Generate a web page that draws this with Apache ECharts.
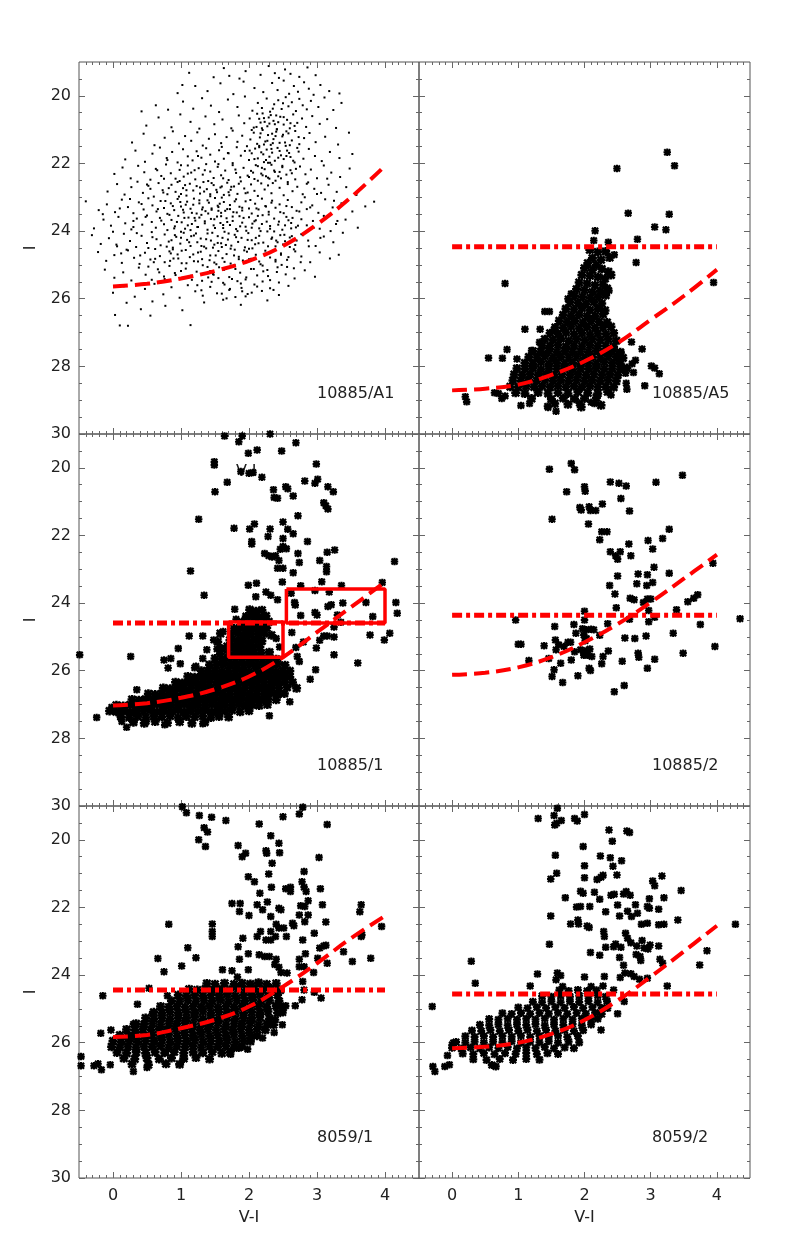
<!DOCTYPE html>
<html>
<head>
<meta charset="utf-8">
<script src="https://cdn.jsdelivr.net/npm/echarts@6/dist/echarts.min.js"></script>
<style>
  html, body { margin: 0; padding: 0; background: #fff; }
  #chart { width: 789px; height: 1240px; }
</style>
</head>
<body>
<div id="chart"></div>
<script>
// ---- data: flat [V-I, I, V-I, I, ...] lists ----

// 10885/A1 : small dots
const a1Dots = [
  1.12,19.32, 1.48,19.45, 1.63,19.18, 1.71,19.41, 1.95,19.27, 2.17,19.38, 2.29,19.12, 2.44,19.47, 2.53,19.22, 2.61,19.35, 2.74,19.44, 2.86,19.16, 2.98,19.39, 2.38,19.33, 1.86,19.49,
  0.95,19.92, 1.21,19.71, 1.39,19.86, 1.58,19.63, 1.77,19.95, 1.92,19.58, 2.08,19.77, 2.21,19.89, 2.34,19.62, 2.42,19.83, 2.51,19.55, 2.59,19.94, 2.66,19.71, 2.72,19.88, 2.81,19.6, 2.88,19.79, 2.95,19.97, 3.05,19.68, 3.18,19.86, 3.33,19.93, 1.02,19.68,
  0.42,20.46, 0.63,20.28, 0.81,20.41, 1.03,20.17, 1.18,20.38, 1.31,20.07, 1.44,20.29, 1.56,20.48, 1.69,20.11, 1.83,20.33, 1.94,20.02, 2.05,20.44, 2.13,20.21, 2.19,20.36, 2.26,20.08, 2.31,20.47, 2.37,20.25, 2.43,20.13, 2.48,20.39, 2.54,20.04, 2.58,20.31, 2.63,20.19, 2.69,20.45, 2.74,20.09, 2.79,20.28, 2.85,20.4, 2.91,20.15, 3.02,20.33, 3.11,20.05, 3.24,20.42, 3.36,20.21, 2.5,20.22, 2.35,20.38,
  0.49,20.88, 0.67,20.64, 0.86,20.93, 0.99,20.55, 1.14,20.77, 1.27,20.97, 1.36,20.61, 1.49,20.84, 1.61,20.7, 1.74,20.96, 1.85,20.58, 1.93,20.81, 2.01,20.67, 2.07,20.94, 2.12,20.53, 2.17,20.79, 2.22,20.66, 2.27,20.9, 2.32,20.57, 2.36,20.74, 2.41,20.99, 2.46,20.62, 2.51,20.85, 2.56,20.71, 2.6,20.96, 2.65,20.55, 2.71,20.8, 2.78,20.67, 2.84,20.92, 2.93,20.6, 3.04,20.83, 3.15,20.69, 3.28,20.95, 2.3,20.82, 2.43,20.78, 2.19,20.96,
  0.28,21.38, 0.45,21.12, 0.61,21.46, 0.76,21.24, 0.88,21.05, 0.97,21.41, 1.06,21.19, 1.15,21.33, 1.24,21.08, 1.32,21.47, 1.41,21.27, 1.5,21.14, 1.59,21.4, 1.67,21.22, 1.76,21.03, 1.83,21.36, 1.9,21.18, 1.97,21.49, 2.02,21.29, 2.07,21.09, 2.12,21.42, 2.16,21.23, 2.2,21.01, 2.24,21.35, 2.28,21.16, 2.32,21.45, 2.36,21.28, 2.4,21.06, 2.45,21.39, 2.49,21.2, 2.54,21.48, 2.58,21.11, 2.63,21.32, 2.68,21.04, 2.74,21.43, 2.81,21.25, 2.89,21.1, 2.98,21.37, 3.12,21.21, 3.31,21.44, 3.47,21.09, 2.22,21.44, 2.34,21.12,
  0.18,21.88, 0.33,21.62, 0.47,21.95, 0.58,21.71, 0.69,21.53, 0.79,21.84, 0.87,21.66, 0.95,21.97, 1.03,21.58, 1.1,21.79, 1.17,21.91, 1.23,21.64, 1.3,21.83, 1.37,21.55, 1.43,21.74, 1.5,21.94, 1.56,21.61, 1.63,21.86, 1.69,21.69, 1.76,21.99, 1.82,21.52, 1.88,21.77, 1.94,21.63, 2.0,21.9, 2.04,21.7, 2.09,21.56, 2.13,21.85, 2.18,21.67, 2.22,21.96, 2.26,21.59, 2.3,21.8, 2.34,21.68, 2.38,21.92, 2.42,21.54, 2.47,21.76, 2.51,21.87, 2.56,21.62, 2.61,21.81, 2.67,21.97, 2.73,21.65, 2.8,21.86, 2.88,21.57, 2.97,21.78, 3.07,21.93, 3.19,21.66, 3.33,21.84, 3.52,21.72, 2.15,21.52, 2.28,21.98, 1.6,21.51,
  0.02,22.31, 0.14,22.12, 0.26,22.44, 0.37,22.07, 0.46,22.26, 0.55,22.48, 0.63,22.16, 0.71,22.37, 0.78,22.03, 0.85,22.29, 0.92,22.45, 0.98,22.19, 1.04,22.39, 1.1,22.06, 1.15,22.27, 1.21,22.47, 1.26,22.14, 1.32,22.33, 1.37,22.02, 1.43,22.24, 1.48,22.43, 1.54,22.1, 1.59,22.35, 1.65,22.21, 1.7,22.49, 1.76,22.05, 1.81,22.28, 1.87,22.41, 1.92,22.13, 1.98,22.36, 2.03,22.22, 2.08,22.46, 2.13,22.08, 2.18,22.3, 2.23,22.17, 2.28,22.42, 2.33,22.04, 2.38,22.25, 2.43,22.38, 2.49,22.11, 2.55,22.33, 2.61,22.2, 2.68,22.47, 2.75,22.09, 2.83,22.32, 2.91,22.18, 3.0,22.44, 3.1,22.06, 3.21,22.27, 3.34,22.4, 3.48,22.15, 1.2,22.2, 1.62,22.44, 2.2,22.35,
  -0.08,22.83, 0.06,22.61, 0.17,22.92, 0.27,22.7, 0.36,22.54, 0.44,22.87, 0.52,22.66, 0.6,22.98, 0.67,22.58, 0.73,22.79, 0.8,22.91, 0.86,22.63, 0.92,22.84, 0.98,22.52, 1.03,22.73, 1.08,22.95, 1.13,22.6, 1.18,22.8, 1.23,22.67, 1.28,22.89, 1.33,22.55, 1.38,22.76, 1.43,22.97, 1.48,22.64, 1.53,22.85, 1.58,22.71, 1.63,22.93, 1.68,22.57, 1.73,22.78, 1.78,22.68, 1.83,22.9, 1.88,22.53, 1.93,22.74, 1.98,22.86, 2.03,22.62, 2.08,22.81, 2.13,22.96, 2.18,22.59, 2.23,22.77, 2.28,22.65, 2.33,22.88, 2.39,22.51, 2.45,22.72, 2.51,22.94, 2.57,22.61, 2.64,22.82, 2.71,22.69, 2.79,22.91, 2.87,22.56, 2.96,22.75, 3.06,22.87, 3.17,22.63, 3.29,22.84, 3.43,22.7, 3.58,22.93, 1.0,22.9, 1.45,22.58, 0.55,22.75, 1.7,22.85,
  -0.4,23.12, -0.21,23.38, -0.09,23.21, 0.03,23.44, 0.13,23.07, 0.22,23.29, 0.3,23.47, 0.38,23.15, 0.45,23.36, 0.52,23.03, 0.58,23.24, 0.64,23.42, 0.7,23.11, 0.75,23.32, 0.8,23.49, 0.85,23.18, 0.9,23.38, 0.95,23.05, 1.0,23.27, 1.04,23.45, 1.09,23.13, 1.14,23.34, 1.18,23.22, 1.23,23.48, 1.27,23.09, 1.32,23.3, 1.36,23.41, 1.41,23.16, 1.45,23.37, 1.5,23.02, 1.54,23.25, 1.59,23.46, 1.63,23.14, 1.68,23.35, 1.72,23.23, 1.77,23.44, 1.81,23.06, 1.86,23.28, 1.9,23.39, 1.95,23.12, 2.0,23.33, 2.04,23.48, 2.09,23.19, 2.14,23.36, 2.19,23.04, 2.24,23.26, 2.29,23.43, 2.34,23.1, 2.39,23.31, 2.45,23.21, 2.51,23.47, 2.57,23.08, 2.63,23.29, 2.7,23.4, 2.77,23.15, 2.85,23.35, 2.93,23.24, 3.02,23.46, 3.12,23.06, 3.23,23.3, 3.36,23.18, 3.52,23.42, 3.71,23.27, 3.84,23.13, 1.07,23.22, 1.55,23.4, 0.42,23.2,
  -0.28,23.92, -0.14,23.66, -0.03,23.84, 0.08,23.58, 0.18,23.77, 0.27,23.95, 0.35,23.63, 0.43,23.81, 0.5,23.54, 0.57,23.73, 0.63,23.9, 0.69,23.61, 0.75,23.8, 0.8,23.97, 0.86,23.67, 0.91,23.86, 0.96,23.55, 1.01,23.74, 1.06,23.93, 1.11,23.6, 1.16,23.79, 1.21,23.69, 1.25,23.88, 1.3,23.52, 1.35,23.71, 1.39,23.96, 1.44,23.64, 1.48,23.83, 1.53,23.57, 1.58,23.76, 1.62,23.91, 1.67,23.62, 1.72,23.82, 1.76,23.7, 1.81,23.94, 1.86,23.56, 1.9,23.75, 1.95,23.87, 2.0,23.59, 2.05,23.78, 2.1,23.68, 2.15,23.92, 2.2,23.53, 2.26,23.72, 2.31,23.85, 2.37,23.63, 2.43,23.81, 2.49,23.96, 2.55,23.58, 2.62,23.76, 2.69,23.89, 2.77,23.65, 2.85,23.83, 2.94,23.7, 3.04,23.93, 3.15,23.57, 3.28,23.79, 3.42,23.66, 3.6,23.9, 0.3,23.7, 1.27,23.6, 2.58,23.68,
  -0.31,24.12, -0.18,24.38, -0.06,24.21, 0.06,24.45, 0.16,24.08, 0.25,24.29, 0.34,24.47, 0.42,24.14, 0.5,24.35, 0.57,24.03, 0.64,24.24, 0.7,24.42, 0.76,24.1, 0.82,24.31, 0.88,24.49, 0.93,24.17, 0.99,24.37, 1.04,24.05, 1.09,24.26, 1.14,24.44, 1.19,24.13, 1.24,24.33, 1.29,24.22, 1.34,24.46, 1.39,24.07, 1.44,24.28, 1.49,24.4, 1.54,24.15, 1.59,24.36, 1.64,24.02, 1.69,24.25, 1.74,24.43, 1.79,24.11, 1.84,24.32, 1.89,24.2, 1.94,24.48, 1.99,24.06, 2.04,24.27, 2.09,24.39, 2.15,24.14, 2.21,24.34, 2.27,24.01, 2.33,24.23, 2.39,24.45, 2.46,24.12, 2.53,24.3, 2.6,24.19, 2.68,24.41, 2.77,24.09, 2.87,24.28, 2.98,24.44, 3.1,24.16, 3.24,24.33, 3.38,24.05, 1.0,24.2, 1.6,24.47, 2.4,24.28,
  -0.22,24.62, -0.1,24.88, 0.02,24.71, 0.13,24.94, 0.22,24.57, 0.31,24.79, 0.39,24.97, 0.47,24.64, 0.55,24.84, 0.62,24.53, 0.69,24.74, 0.76,24.92, 0.83,24.6, 0.89,24.81, 0.95,24.69, 1.01,24.95, 1.07,24.56, 1.13,24.77, 1.19,24.89, 1.25,24.63, 1.31,24.83, 1.37,24.51, 1.43,24.72, 1.49,24.93, 1.55,24.59, 1.61,24.8, 1.67,24.68, 1.73,24.96, 1.79,24.55, 1.85,24.76, 1.91,24.87, 1.97,24.61, 2.03,24.82, 2.1,24.7, 2.17,24.98, 2.24,24.58, 2.31,24.78, 2.39,24.9, 2.47,24.66, 2.56,24.85, 2.66,24.54, 2.77,24.75, 2.9,24.92, 3.04,24.63, 3.19,24.81, 3.32,24.7, 0.88,24.54, 1.52,24.98, 2.0,24.52,
  -0.12,25.14, 0.02,25.38, 0.15,25.22, 0.27,25.46, 0.38,25.08, 0.48,25.29, 0.57,25.44, 0.66,25.13, 0.75,25.34, 0.83,25.03, 0.91,25.24, 0.99,25.41, 1.07,25.11, 1.15,25.32, 1.23,25.2, 1.31,25.47, 1.39,25.06, 1.47,25.27, 1.55,25.39, 1.63,25.15, 1.71,25.36, 1.79,25.01, 1.87,25.23, 1.95,25.43, 2.03,25.12, 2.12,25.31, 2.21,25.19, 2.31,25.45, 2.42,25.07, 2.54,25.28, 2.67,25.4, 2.82,25.16, 2.97,25.35, 1.83,25.48, 1.43,25.18,
  0.0,25.82, 0.16,25.63, 0.32,25.94, 0.47,25.71, 0.61,25.56, 0.74,25.87, 0.86,25.66, 0.98,25.97, 1.1,25.6, 1.21,25.78, 1.32,25.91, 1.43,25.65, 1.53,25.84, 1.62,25.53, 1.71,25.74, 1.8,25.95, 1.89,25.68, 1.98,25.86, 2.08,25.58, 2.19,25.77, 2.31,25.69, 2.44,25.89, 2.58,25.62, 1.67,25.99, 1.95,25.93,
  0.03,26.48, 0.2,26.12, 0.41,26.31, 0.58,26.08, 0.77,26.21, 1.02,26.34, 1.34,26.11, 1.62,26.03, 1.88,26.18, 2.27,26.05, 0.1,26.79, 0.22,26.8, 1.14,26.78, 0.55,26.5
];
// extra dots in the densest parts of the A1 cloud
const a1DenseDots = [
  0.74,22.86, 0.83,23.52, 0.91,24.12, 0.97,22.98, 1.05,23.61, 1.12,24.33, 1.19,23.04, 1.24,23.88, 1.29,24.61, 1.34,22.83, 1.4,23.48, 1.46,24.05, 1.51,24.72, 1.57,23.19, 1.62,23.82, 1.66,24.41, 1.71,22.94, 1.76,23.57, 1.81,24.18, 1.85,24.83, 1.9,23.31, 1.96,23.99, 0.79,24.46, 0.88,23.26, 0.94,23.73, 1.01,24.58, 1.08,22.79, 1.16,23.46, 1.22,24.07, 1.31,23.36, 1.37,24.24, 1.43,22.91, 1.49,23.65, 1.54,24.35, 1.6,23.01, 1.68,23.73, 1.73,24.52, 1.79,23.12, 1.87,23.86, 1.93,24.57, 0.71,23.69, 0.86,24.27, 1.03,23.37, 1.14,23.97, 1.27,23.18, 1.35,23.77, 1.47,24.49, 1.59,23.56, 1.7,24.07, 1.82,23.45, 1.98,24.26, 0.96,24.81, 1.18,24.69, 1.42,24.86, 1.64,24.91, 0.82,22.73, 1.06,22.64, 1.28,22.71, 1.52,22.78, 1.74,22.69, 1.95,22.88,
  0.77,23.11, 0.9,23.92, 1.0,24.02, 1.1,23.83, 1.2,23.61, 1.3,24.44, 1.39,23.09, 1.5,23.91, 1.61,24.2, 1.72,23.35, 1.83,24.0, 1.92,23.61, 0.85,24.66, 1.25,24.9, 1.55,23.29, 1.45,23.33, 1.15,24.15, 1.65,23.4, 1.78,24.72, 0.99,23.14,
  2.02,23.08, 2.08,23.71, 2.14,24.36, 2.2,25.02, 2.25,23.27, 2.31,23.93, 2.36,24.58, 2.41,25.21, 2.46,23.44, 2.52,24.11, 2.58,24.77, 2.64,23.61, 2.7,24.28, 2.76,24.92, 2.05,24.51, 2.11,23.33, 2.17,24.0, 2.23,24.67, 2.29,23.51, 2.34,24.19, 2.39,24.85, 2.44,23.72, 2.5,24.4, 2.56,25.06, 2.62,23.92, 2.68,24.6, 2.74,23.42, 2.0,24.83, 2.07,25.12, 2.13,23.55, 2.27,25.15, 2.33,23.16, 2.48,25.0, 2.55,23.26, 2.6,24.47, 2.72,23.84, 2.79,24.12, 2.04,23.9, 2.19,23.79, 2.37,24.01, 2.53,23.83, 2.66,25.1, 2.15,24.9, 2.42,24.33, 2.1,24.2, 2.28,24.45, 2.47,24.7, 2.63,24.15,
  2.01,21.62, 2.06,22.27, 2.11,20.92, 2.15,21.48, 2.19,22.13, 2.23,20.77, 2.27,21.33, 2.31,21.98, 2.35,22.58, 2.39,21.19, 2.43,21.83, 2.47,22.44, 2.51,20.63, 2.55,21.05, 2.59,21.69, 2.63,22.29, 2.67,20.89, 2.71,21.54, 2.04,21.01, 2.08,21.87, 2.13,22.51, 2.17,21.11, 2.21,21.73, 2.25,22.38, 2.29,20.64, 2.33,21.57, 2.37,22.21, 2.41,20.99, 2.45,21.63, 2.49,22.07, 2.53,21.38, 2.57,22.55, 2.61,20.81, 2.65,21.92, 2.69,22.16, 2.73,21.22, 2.2,20.52, 2.4,20.58, 2.6,21.46, 2.35,21.4, 2.25,21.9, 2.45,22.25, 2.1,22.05, 2.55,21.78, 2.3,22.45, 2.0,22.4, 2.15,20.68, 2.5,21.15, 2.38,20.84,
  0.52,25.05, 0.68,25.22, 0.84,24.88, 1.0,25.18, 1.16,25.44, 1.32,25.01, 1.48,25.29, 1.64,25.58, 1.8,25.12, 1.96,25.37, 2.12,25.64, 2.28,25.33, 2.44,25.52, 0.6,24.92, 0.76,25.42, 0.92,25.3, 1.08,24.95, 1.24,25.6, 1.4,25.37, 1.56,25.07, 1.72,25.71, 1.88,25.55, 2.04,25.82, 2.2,25.49, 2.36,25.74, 1.6,25.85, 1.9,25.78, 1.3,25.75, 1.45,25.5, 1.75,25.42,
  -0.15,23.5, 0.0,24.02, 0.1,23.33, 0.2,24.55, 0.3,23.88, 0.4,24.72, 0.48,23.58, 0.58,24.18, 0.66,23.35, 0.62,24.82, 0.12,24.66, 0.35,24.06, 0.52,24.5, 0.25,23.05, 0.05,24.4,
  0.5,22.62, 0.65,22.2, 0.8,21.9, 0.95,22.55, 1.1,22.3, 1.25,21.78, 1.4,22.52, 1.55,22.02, 1.7,21.7, 1.85,22.6, 0.75,22.45, 1.0,22.05, 1.35,22.2, 1.6,22.68, 1.8,22.18,
  2.85,22.6, 2.9,23.3, 2.95,23.9, 3.0,22.9, 3.05,24.2, 3.1,23.55, 3.15,22.45, 3.2,24.0, 2.88,24.45, 3.25,23.1, 3.3,23.7, 2.82,23.0
];

// 10885/A5 : scattered asterisks and the dense sequence
const a5Scatter = [
  3.25,21.67, 3.36,22.07, 2.49,22.15, 2.66,23.47, 3.28,23.5, 3.06,23.88, 3.23,23.96, 2.16,23.99, 2.14,24.28, 2.8,24.24, 2.36,24.33, 2.45,24.7, 2.78,24.93, 2.37,25.76, 0.8,25.55, 3.95,25.52,
  1.4,26.38, 1.47,26.38, 1.1,26.9, 1.33,26.9, 1.54,26.92, 1.32,27.29, 1.2,27.53, 0.83,27.5, 0.55,27.75, 0.76,27.76, 0.98,27.78, 1.75,26.0, 1.8,25.85,
  2.71,27.28, 2.87,27.49, 2.77,27.82, 2.72,27.92, 2.55,27.6, 2.52,27.8, 2.74,28.18, 2.62,28.2, 2.63,28.5, 2.64,28.68, 2.4,28.85, 3.01,27.99, 3.06,28.05, 3.13,28.22, 2.91,28.57,
  1.04,29.16, 1.17,29.1, 1.44,29.18, 1.45,29.22, 1.57,29.33, 1.92,29.08, 2.1,29.06, 2.15,29.1,
  0.2,28.9, 0.22,29.05, 0.7,28.8, 0.75,28.95, 0.8,28.88, 0.64,28.78
];
const a5Core = [
  2.08,24.55, 2.2,24.62, 2.32,24.6, 2.12,24.8, 2.25,24.85, 2.38,24.78, 2.05,24.95, 2.18,25.0,
  2.0,25.1, 2.12,25.15, 2.26,25.12, 2.36,25.2, 1.96,25.3, 2.08,25.32, 2.2,25.36, 2.31,25.4, 2.4,25.3,
  1.92,25.52, 2.04,25.55, 2.16,25.6, 2.28,25.58, 1.88,25.72, 2.0,25.75, 2.12,25.8, 2.24,25.78, 2.34,25.7, 1.85,25.92, 1.97,25.95, 2.09,25.98, 2.21,25.94, 2.32,25.9,
  1.78,26.1, 1.9,26.12, 2.02,26.15, 2.14,26.1, 2.26,26.14, 1.72,26.3, 1.84,26.32, 1.96,26.28, 2.08,26.33, 2.2,26.3, 2.31,26.35, 1.68,26.48, 1.8,26.5, 1.92,26.47, 2.04,26.52, 2.16,26.5, 2.28,26.46,
  1.62,26.65, 1.74,26.68, 1.86,26.66, 1.98,26.7, 2.1,26.65, 2.22,26.68, 2.34,26.7, 1.56,26.85, 1.68,26.86, 1.8,26.82, 1.92,26.88, 2.04,26.84, 2.16,26.87, 2.28,26.85, 2.4,26.83,
  1.48,27.02, 1.6,27.04, 1.72,27.0, 1.84,27.05, 1.96,27.02, 2.08,27.06, 2.2,27.03, 2.32,27.05, 2.44,27.02, 1.4,27.2, 1.52,27.22, 1.64,27.18, 1.76,27.24, 1.88,27.2, 2.0,27.23, 2.12,27.19, 2.24,27.22, 2.36,27.2, 2.48,27.24, 1.36,27.38, 1.48,27.4, 1.6,27.36, 1.72,27.42, 1.84,27.38, 1.96,27.41, 2.08,27.37, 2.2,27.4, 2.32,27.39, 2.44,27.42,
  1.22,27.55, 1.34,27.57, 1.46,27.54, 1.58,27.58, 1.7,27.55, 1.82,27.57, 1.94,27.56, 2.06,27.58, 2.18,27.54, 2.3,27.57, 2.42,27.55, 2.54,27.58, 1.16,27.72, 1.28,27.74, 1.4,27.7, 1.52,27.75, 1.64,27.72, 1.76,27.74, 1.88,27.71, 2.0,27.75, 2.12,27.72, 2.24,27.74, 2.36,27.7, 2.48,27.73, 2.58,27.75, 1.1,27.9, 1.22,27.92, 1.34,27.88, 1.46,27.92, 1.58,27.9, 1.7,27.93, 1.82,27.89, 1.94,27.92, 2.06,27.9, 2.18,27.93, 2.3,27.88, 2.42,27.91, 2.54,27.92,
  0.98,28.06, 1.1,28.08, 1.22,28.05, 1.34,28.09, 1.46,28.06, 1.58,28.08, 1.7,28.05, 1.82,28.09, 1.94,28.06, 2.06,28.08, 2.18,28.05, 2.3,28.08, 2.42,28.06, 2.54,28.09, 2.64,28.05, 0.94,28.24, 1.06,28.26, 1.18,28.22, 1.3,28.25, 1.42,28.23, 1.54,28.26, 1.66,28.22, 1.78,28.25, 1.9,28.23, 2.02,28.26, 2.14,28.22, 2.26,28.25, 2.38,28.23, 2.5,28.26, 0.92,28.42, 1.04,28.44, 1.16,28.4, 1.28,28.43, 1.4,28.41, 1.52,28.44, 1.64,28.4, 1.76,28.43, 1.88,28.41, 2.0,28.44, 2.12,28.4, 2.24,28.43, 2.36,28.41, 2.48,28.44,
  0.88,28.6, 1.0,28.62, 1.12,28.58, 1.24,28.61, 1.36,28.59, 1.48,28.62, 1.6,28.58, 1.72,28.61, 1.84,28.59, 1.96,28.62, 2.08,28.58, 2.2,28.61, 2.32,28.6, 2.44,28.62, 0.96,28.78, 1.1,28.8, 1.3,28.77, 1.45,28.8, 1.6,28.78, 1.75,28.8, 1.9,28.76, 2.05,28.79, 2.2,28.8, 2.35,28.75, 1.2,28.95, 1.5,28.97, 1.68,28.94, 1.85,28.96, 2.0,28.95, 2.18,28.93,
  1.55,29.1, 1.75,29.12, 1.95,29.2, 2.25,29.15
];

// 10885/1 : scattered stars and the dense sequence
const n1Scatter = [
  1.64,19.06, 1.9,19.06, 1.85,19.23, 1.99,19.57, 2.12,19.47, 2.48,19.5, 2.69,19.26, 2.31,19.0, 1.49,19.82, 1.49,19.92, 1.88,20.11, 2.0,20.16, 2.06,20.14, 2.19,20.28, 1.68,20.43, 1.5,20.71, 2.36,20.65, 2.37,20.88, 2.42,20.9, 2.54,20.56, 2.57,20.62, 2.65,20.83, 2.82,20.39, 2.97,20.46, 3.01,20.34, 2.99,19.89, 3.16,20.56, 3.24,20.71, 3.1,21.03, 3.13,21.12, 3.16,21.22, 2.72,21.42, 1.26,21.52, 2.5,21.6, 2.08,21.66, 2.01,21.81, 1.78,21.79, 2.31,21.81, 2.57,21.82, 2.65,21.95, 2.28,22.03, 2.5,22.09, 2.04,22.18, 2.04,22.25, 2.86,22.18, 2.46,22.41, 2.5,22.33, 2.55,22.39, 3.26,22.43, 3.15,22.5, 2.23,22.53, 2.29,22.6, 2.34,22.64, 2.39,22.6, 2.44,22.74, 2.72,22.53, 2.74,22.8, 3.04,22.74, 3.14,22.92, 3.14,23.07, 2.42,22.97, 2.5,22.97, 2.65,23.1, 1.14,23.05, 4.14,22.77, 3.07,23.37, 2.49,23.38, 1.99,23.47, 2.11,23.41, 1.34,23.77, 2.1,23.81, 2.25,23.67, 2.32,23.77, 2.42,23.9, 2.76,23.49, 3.18,23.67, 3.36,23.48, 3.96,23.39, 2.62,23.71, 2.67,23.98, 2.68,24.06, 2.97,23.63, 2.97,24.28, 3.0,24.35, 3.16,24.1, 3.21,24.05, 3.38,24.0, 2.76,24.37, 3.3,24.35, 3.72,23.98, 3.82,24.4, 4.16,23.98, 4.18,24.3, 3.35,24.57, 3.25,24.71, 3.1,24.97, 3.15,24.97, 3.25,25.0, 3.78,24.94, 4.07,24.89, 3.99,25.09, 3.25,25.53, 2.99,25.33, 3.04,25.1, 2.98,25.97, 2.9,26.25, 3.6,25.77, 2.71,25.58, 2.74,25.73, 2.69,25.31, 2.8,25.15, 2.63,24.87, 2.4,25.05, 2.45,25.3,
  1.12,24.97, 1.32,24.97, 1.79,24.18, 1.81,24.48, 0.96,25.34, 0.75,25.68, 0.81,25.92, 0.85,25.64, 0.99,25.79, 0.26,25.58, -0.49,25.53, 0.35,26.56, -0.24,27.38, -0.02,27.08, 0.11,27.35, 0.2,27.67, 0.13,27.5, 0.26,27.25, 0.49,27.5, 0.76,27.6, 1.32,27.57, 2.3,27.33, 2.6,26.92, 1.2,25.91, 1.22,25.87, 1.32,25.64, 1.38,25.38, 1.53,25.36, 1.48,25.09, 1.62,24.84
];
const n1Core = [
  2.01,24.2, 2.1,24.24, 2.19,24.21,
  1.96,24.4, 2.06,24.37, 2.15,24.41, 2.25,24.38,
  1.9,24.56, 2.0,24.58, 2.09,24.55, 2.19,24.57, 2.29,24.55,
  1.78,24.75, 1.87,24.73, 1.97,24.76, 2.07,24.74, 2.16,24.77, 2.26,24.73,
  1.74,24.93, 1.84,24.9, 1.94,24.94, 2.03,24.91, 2.13,24.93, 2.22,24.9, 2.33,24.95, 1.58,24.9,
  1.72,25.1, 1.82,25.12, 1.91,25.09, 2.0,25.13, 2.1,25.1, 2.19,25.12, 1.54,25.14,
  1.68,25.28, 1.78,25.3, 1.88,25.27, 1.97,25.31, 2.06,25.28, 2.16,25.3, 1.6,25.35,
  1.7,25.46, 1.8,25.48, 1.89,25.45, 1.99,25.49, 2.08,25.46, 2.18,25.48, 2.3,25.45, 1.58,25.5,
  1.5,25.64, 1.6,25.66, 1.7,25.63, 1.8,25.67, 1.9,25.64, 2.0,25.66, 2.1,25.63, 2.2,25.67, 2.3,25.64, 2.4,25.66,
  1.42,25.82, 1.52,25.84, 1.62,25.81, 1.72,25.84, 1.82,25.81, 1.92,25.83, 2.02,25.8, 2.12,25.84, 2.22,25.81, 2.32,25.83, 2.42,25.8, 2.53,25.84,
  1.3,26.0, 1.4,26.02, 1.5,25.99, 1.6,26.02, 1.7,25.99, 1.8,26.01, 1.9,25.98, 2.0,26.02, 2.1,25.99, 2.2,26.01, 2.3,25.98, 2.4,26.02, 2.5,25.99, 2.6,26.01,
  1.1,26.17, 1.2,26.19, 1.3,26.16, 1.4,26.19, 1.5,26.16, 1.6,26.18, 1.7,26.15, 1.8,26.19, 1.9,26.16, 2.0,26.18, 2.1,26.15, 2.2,26.19, 2.3,26.16, 2.4,26.18, 2.5,26.15, 2.6,26.19,
  0.92,26.34, 1.02,26.36, 1.12,26.33, 1.22,26.36, 1.32,26.33, 1.42,26.35, 1.52,26.32, 1.62,26.36, 1.72,26.33, 1.82,26.35, 1.92,26.32, 2.02,26.36, 2.12,26.33, 2.22,26.35, 2.32,26.32, 2.42,26.36, 2.52,26.33, 2.64,26.35,
  0.74,26.51, 0.84,26.53, 0.94,26.5, 1.04,26.53, 1.14,26.5, 1.24,26.52, 1.34,26.49, 1.44,26.53, 1.54,26.5, 1.64,26.52, 1.74,26.49, 1.84,26.53, 1.94,26.5, 2.04,26.52, 2.14,26.49, 2.24,26.53, 2.34,26.5, 2.44,26.52, 2.56,26.49, 2.7,26.52,
  0.52,26.68, 0.62,26.7, 0.72,26.67, 0.82,26.7, 0.92,26.67, 1.02,26.69, 1.12,26.66, 1.22,26.7, 1.32,26.67, 1.42,26.69, 1.52,26.66, 1.62,26.7, 1.72,26.67, 1.82,26.69, 1.92,26.66, 2.02,26.7, 2.12,26.67, 2.22,26.69, 2.32,26.66, 2.42,26.7, 2.52,26.67,
  0.28,26.85, 0.38,26.87, 0.48,26.84, 0.58,26.87, 0.68,26.84, 0.78,26.86, 0.88,26.83, 0.98,26.87, 1.08,26.84, 1.18,26.86, 1.28,26.83, 1.38,26.87, 1.48,26.84, 1.58,26.86, 1.68,26.83, 1.78,26.87, 1.88,26.84, 1.98,26.86, 2.08,26.83, 2.18,26.87, 2.28,26.84, 2.4,26.86,
  0.05,27.02, 0.15,27.04, 0.25,27.01, 0.35,27.04, 0.45,27.01, 0.55,27.03, 0.65,27.0, 0.75,27.04, 0.85,27.01, 0.95,27.03, 1.05,27.0, 1.15,27.04, 1.25,27.01, 1.35,27.03, 1.45,27.0, 1.55,27.04, 1.65,27.01, 1.75,27.03, 1.85,27.0, 1.95,27.04, 2.05,27.01, 2.15,27.03, 2.27,27.0,
  -0.05,27.19, 0.05,27.21, 0.15,27.18, 0.25,27.21, 0.35,27.18, 0.45,27.2, 0.55,27.17, 0.65,27.21, 0.75,27.18, 0.85,27.2, 0.95,27.17, 1.05,27.21, 1.15,27.18, 1.25,27.2, 1.35,27.17, 1.45,27.21, 1.55,27.18, 1.65,27.2, 1.75,27.17, 1.87,27.21, 2.0,27.18,
  0.12,27.36, 0.24,27.38, 0.36,27.35, 0.48,27.38, 0.6,27.35, 0.72,27.37, 0.84,27.34, 0.96,27.38, 1.08,27.35, 1.2,27.37, 1.32,27.34, 1.44,27.38, 1.56,27.35, 1.7,27.37,
  0.3,27.52, 0.46,27.55, 0.62,27.5, 0.8,27.54, 0.98,27.51, 1.16,27.55, 1.35,27.52
];

// 10885/2 : asterisks
const n2Stars = [
  1.47,20.04, 1.8,19.87, 1.85,20.06, 1.73,20.71, 2.0,20.56, 2.01,20.69, 2.39,20.42, 2.52,20.46, 2.63,20.54, 3.08,20.43, 3.48,20.22, 2.55,20.91, 1.93,21.17, 1.95,21.25, 2.07,21.15, 2.09,21.26, 2.17,21.26, 2.27,21.07, 2.68,21.28, 1.51,21.52, 2.06,21.66, 2.26,21.89, 2.34,21.89, 2.23,22.13, 2.96,22.15, 3.28,21.82, 3.18,22.09, 2.67,22.25, 3.03,22.4, 2.39,22.48, 2.54,22.48, 2.47,22.6, 2.5,22.7, 2.7,22.6, 3.94,22.82, 3.05,22.94, 2.81,23.14, 2.95,23.16, 3.28,23.12, 2.5,23.2, 3.03,23.39, 2.79,23.43, 2.94,23.48, 2.38,23.48, 2.46,23.73, 2.69,23.86, 2.75,23.9, 2.95,23.88, 3.0,23.88, 2.89,23.98, 3.56,23.96, 3.65,23.86, 3.71,23.75, 2.48,24.14, 3.39,24.2, 2.0,24.24, 2.97,24.22, 2.68,24.48, 3.06,24.42, 2.97,24.55, 0.96,24.5, 4.35,24.46, 3.75,24.63, 2.0,24.5, 1.84,24.63, 2.35,24.61, 1.55,24.69, 1.87,24.89, 1.97,24.76, 2.03,24.79, 2.1,24.77, 2.14,24.79, 2.23,24.95, 1.99,24.94, 2.03,25.05, 2.01,25.11, 3.34,24.89, 2.61,25.03, 2.76,25.05, 2.93,24.97, 1.56,25.09, 1.61,25.23, 1.57,25.38, 1.69,25.28, 1.75,25.16, 1.79,25.16, 1.39,25.26, 1.0,25.22, 1.04,25.22, 1.85,25.44, 1.94,25.38, 1.99,25.48, 2.03,25.4, 2.08,25.36, 1.99,25.54, 2.05,25.54, 2.11,25.58, 2.36,25.42, 2.28,25.58, 3.49,25.48, 3.97,25.28, 2.81,25.48, 2.82,25.6, 3.06,25.66, 2.57,25.72, 1.8,25.68, 1.64,25.78, 1.46,25.64, 1.16,25.7, 2.26,25.79, 2.07,25.93, 2.09,25.99, 1.54,25.97, 2.95,25.93, 1.51,26.17, 1.9,26.15, 1.67,26.35, 2.6,26.44, 2.45,26.62
];

// 8059/1 : scattered stars and the dense sequence
const m1Scatter = [
  1.02,19.02, 1.08,19.2, 1.27,19.28, 1.45,19.33, 1.34,19.64, 1.39,19.77, 1.26,20.0, 1.36,20.2, 1.66,19.43, 2.15,19.53, 2.5,19.32, 2.74,19.24, 2.79,19.04, 3.15,19.55, 2.32,19.88, 2.44,20.1, 2.45,20.38, 1.84,20.17, 1.9,20.5, 1.95,20.4, 2.25,20.32, 2.26,20.4, 3.03,20.52, 2.34,20.69, 2.29,21.01, 2.81,20.94, 1.99,21.09, 2.08,21.24, 2.33,21.4, 2.16,21.58, 2.54,21.45, 2.61,21.4, 2.61,21.53, 2.78,21.24, 2.81,21.4, 2.84,21.53, 3.05,21.45, 2.87,21.8, 2.27,21.84, 1.75,21.88, 1.87,21.88, 1.86,22.12, 2.12,21.92, 2.2,22.07, 2.32,22.27, 2.47,22.07, 2.44,22.02, 2.76,21.95, 2.82,21.97, 3.08,21.92, 2.87,22.22, 2.74,22.22, 2.82,22.42, 2.0,22.24, 3.65,21.92, 3.63,22.13, 3.13,22.43, 2.4,22.5, 2.44,22.61, 2.51,22.61, 2.64,22.47, 2.66,22.54, 2.96,22.76, 2.79,22.96, 2.55,22.86, 2.32,22.71, 2.17,22.71, 2.12,22.86, 2.25,22.96, 2.32,22.96, 2.39,22.86, 1.91,22.91, 1.46,22.49, 1.46,22.71, 1.46,22.86, 0.82,22.5, 1.1,23.19, 1.22,23.49, 1.01,23.73, 0.66,23.51, 0.75,23.9, 1.84,23.16, 1.86,23.53, 1.99,23.37, 1.99,23.84, 2.15,23.4, 2.23,23.45, 2.3,23.45, 2.4,23.53, 2.38,23.69, 2.44,23.77, 1.61,23.84, 1.75,23.87, 1.83,24.06, 2.74,23.53, 2.81,23.75, 2.74,23.75, 2.83,23.37, 2.95,23.92, 3.01,23.5, 3.04,23.2, 3.1,23.14, 3.13,23.12, 3.15,23.65, 3.39,23.31, 3.52,23.6, 3.79,23.5, 3.65,22.86, 3.95,22.56, 3.66,22.81, 2.96,24.51, 3.06,24.68, 2.78,24.73, 2.68,24.91, 2.79,24.19, 2.81,24.44, 2.47,23.92, 2.56,23.94, -0.15,24.61, -0.18,25.72, -0.47,26.41, -0.47,26.68, -0.28,26.68, -0.22,26.62, -0.17,26.8, -0.04,26.65, -0.03,25.62, 0.36,24.86, 0.53,24.39, 0.8,24.61, 0.58,25.14, 0.3,25.45, 0.46,25.45, 0.31,25.83, 0.5,25.79, 0.3,26.85, 0.5,26.73, 1.73,26.34, 1.85,26.16, 1.98,26.19, 2.2,25.86, 2.37,25.7, 2.49,25.47, 2.5,25.11, 2.54,24.91, 2.39,25.32
];
const m1Core = [
  1.38,24.25, 1.5,24.27, 1.64,24.24, 1.78,24.27, 1.9,24.24, 2.02,24.26, 2.14,24.23, 2.26,24.27, 2.4,24.25,
  1.12,24.42, 1.24,24.44, 1.36,24.41, 1.48,24.44, 1.6,24.41, 1.72,24.43, 1.84,24.4, 1.96,24.44, 2.08,24.41, 2.2,24.43, 2.32,24.4, 2.46,24.44,
  0.96,24.59, 1.08,24.61, 1.2,24.58, 1.32,24.61, 1.44,24.58, 1.56,24.6, 1.68,24.57, 1.8,24.61, 1.92,24.58, 2.04,24.6, 2.16,24.57, 2.28,24.61, 2.42,24.58,
  0.86,24.76, 0.98,24.78, 1.1,24.75, 1.22,24.78, 1.34,24.75, 1.46,24.77, 1.58,24.74, 1.7,24.78, 1.82,24.75, 1.94,24.77, 2.06,24.74, 2.18,24.78, 2.3,24.75, 2.44,24.77,
  0.7,24.93, 0.82,24.95, 0.94,24.92, 1.06,24.95, 1.18,24.92, 1.3,24.94, 1.42,24.91, 1.54,24.95, 1.66,24.92, 1.78,24.94, 1.9,24.91, 2.02,24.95, 2.14,24.92, 2.26,24.94, 2.4,24.91, 2.5,24.95,
  0.6,25.1, 0.72,25.12, 0.84,25.09, 0.96,25.12, 1.08,25.09, 1.2,25.11, 1.32,25.08, 1.44,25.12, 1.56,25.09, 1.68,25.11, 1.8,25.08, 1.92,25.12, 2.04,25.09, 2.16,25.11, 2.28,25.08, 2.42,25.12,
  0.48,25.27, 0.6,25.29, 0.72,25.26, 0.84,25.29, 0.96,25.26, 1.08,25.28, 1.2,25.25, 1.32,25.29, 1.44,25.26, 1.56,25.28, 1.68,25.25, 1.8,25.29, 1.92,25.26, 2.04,25.28, 2.16,25.25, 2.3,25.29,
  0.34,25.44, 0.46,25.46, 0.58,25.43, 0.7,25.46, 0.82,25.43, 0.94,25.45, 1.06,25.42, 1.18,25.46, 1.3,25.43, 1.42,25.45, 1.54,25.42, 1.66,25.46, 1.78,25.43, 1.9,25.45, 2.02,25.42, 2.14,25.46, 2.26,25.43, 2.36,25.47,
  0.2,25.61, 0.32,25.63, 0.44,25.6, 0.56,25.63, 0.68,25.6, 0.8,25.62, 0.92,25.59, 1.04,25.63, 1.16,25.6, 1.28,25.62, 1.4,25.59, 1.52,25.63, 1.64,25.6, 1.76,25.62, 1.88,25.59, 2.0,25.63, 2.12,25.6, 2.24,25.62,
  0.1,25.78, 0.22,25.8, 0.34,25.77, 0.46,25.8, 0.58,25.77, 0.7,25.79, 0.82,25.76, 0.94,25.8, 1.06,25.77, 1.18,25.79, 1.3,25.76, 1.42,25.8, 1.54,25.77, 1.66,25.79, 1.78,25.76, 1.9,25.8, 2.02,25.77, 2.12,25.79,
  0.0,25.95, 0.12,25.97, 0.24,25.94, 0.36,25.97, 0.48,25.94, 0.6,25.96, 0.72,25.93, 0.84,25.97, 0.96,25.94, 1.08,25.96, 1.2,25.93, 1.32,25.97, 1.44,25.94, 1.56,25.96, 1.68,25.93, 1.8,25.97, 1.92,25.94, 2.02,25.96,
  -0.02,26.12, 0.1,26.14, 0.22,26.11, 0.34,26.14, 0.46,26.11, 0.58,26.13, 0.7,26.1, 0.82,26.14, 0.94,26.11, 1.06,26.13, 1.18,26.1, 1.3,26.14, 1.42,26.11, 1.54,26.13, 1.66,26.1, 1.78,26.14, 1.9,26.11,
  0.06,26.29, 0.2,26.31, 0.34,26.28, 0.48,26.31, 0.62,26.28, 0.76,26.3, 0.9,26.27, 1.04,26.31, 1.18,26.28, 1.32,26.3, 1.46,26.27, 1.6,26.31, 1.72,26.28,
  0.16,26.46, 0.32,26.48, 0.5,26.45, 0.68,26.48, 0.86,26.45, 1.04,26.47, 1.22,26.44, 1.42,26.48,
  0.28,26.63, 0.52,26.65, 0.78,26.62, 0.98,26.64
];

// 8059/2 : scattered stars and the dense sequence
const m2Scatter = [
  1.3,19.37, 1.54,19.28, 1.59,19.07, 1.65,19.43, 1.55,19.56, 1.58,19.51, 1.85,19.37, 1.89,19.44, 2.0,19.25, 1.98,20.2, 2.37,19.71, 2.42,20.04, 2.64,19.74, 2.68,19.78, 1.56,20.46, 2.24,20.48, 2.39,20.53, 2.43,20.78, 2.56,20.62, 2.0,20.77, 2.49,21.04, 1.58,20.99, 1.49,21.16, 2.19,21.17, 2.25,21.11, 2.28,21.05, 2.0,21.12, 3.03,21.22, 3.06,21.36, 3.17,21.07, 3.46,21.5, 1.94,21.52, 1.98,21.58, 2.15,21.55, 2.23,21.76, 2.4,21.64, 2.45,21.61, 2.59,21.6, 2.63,21.53, 2.69,21.64, 2.98,21.74, 3.2,21.71, 1.71,21.71, 2.5,21.93, 1.88,21.99, 1.94,21.97, 2.08,21.97, 2.77,21.92, 2.95,21.97, 2.98,22.02, 3.12,22.05, 2.32,22.13, 2.53,22.25, 2.65,22.11, 2.71,22.27, 2.8,22.17, 1.49,22.25, 3.41,22.37, 4.28,22.5, 1.79,22.49, 1.9,22.37, 1.91,22.49, 2.04,22.55, 2.07,22.59, 2.86,22.5, 2.95,22.47, 3.12,22.51, 3.2,22.5, 2.29,22.71, 2.3,22.86, 2.62,22.76, 2.65,22.91, 2.7,23.04, 2.87,22.98, 2.47,23.08, 2.44,23.16, 2.32,23.18, 2.55,23.18, 2.79,23.14, 2.9,23.2, 2.99,23.11, 3.12,23.14, 2.96,23.23, 2.53,23.48, 2.23,23.41, 2.09,23.33, 2.78,23.39, 2.85,23.57, 2.84,23.45, 3.14,23.53, 3.18,23.65, 2.59,23.71, 3.85,23.28, 3.74,23.7, 1.47,23.09, 0.29,23.59, 0.35,24.24, 1.29,23.97, 1.59,23.94, 1.64,24.01, 1.57,24.14, 1.67,24.34, 2.0,24.06, 2.3,24.04, 2.54,24.07, 2.61,23.94, 2.7,23.96, 2.75,24.04, 2.83,24.12, 2.95,24.09, 3.25,24.32, 2.28,24.32, 2.1,24.34, 1.18,24.32, 2.44,24.44, 2.6,24.78, 2.5,25.14, 2.25,25.62, -0.3,24.93, 2.35,24.98,
  -0.29,26.7, -0.26,26.85, -0.11,26.7, -0.04,26.65, -0.07,26.38, 0.0,26.06, 0.02,26.0
];
const m2Core = [
  1.62,24.45, 1.76,24.47, 1.9,24.44, 2.04,24.47, 2.18,24.45,
  1.36,24.62, 1.5,24.64, 1.64,24.61, 1.78,24.64, 1.92,24.61, 2.06,24.63, 2.2,24.6, 2.32,24.64,
  1.22,24.79, 1.36,24.81, 1.5,24.78, 1.64,24.81, 1.78,24.78, 1.92,24.8, 2.06,24.77, 2.2,24.81, 2.34,24.78,
  1.0,24.96, 1.14,24.98, 1.28,24.95, 1.42,24.98, 1.56,24.95, 1.7,24.97, 1.84,24.94, 1.98,24.98, 2.12,24.95, 2.26,24.97,
  0.76,25.13, 0.9,25.15, 1.04,25.12, 1.18,25.15, 1.32,25.12, 1.46,25.14, 1.6,25.11, 1.74,25.15, 1.88,25.12, 2.02,25.14, 2.16,25.11, 2.26,25.15,
  0.56,25.3, 0.7,25.32, 0.84,25.29, 0.98,25.32, 1.12,25.29, 1.26,25.31, 1.4,25.28, 1.54,25.32, 1.68,25.29, 1.82,25.31, 1.96,25.28, 2.1,25.32, 2.2,25.29,
  0.42,25.47, 0.56,25.49, 0.7,25.46, 0.84,25.49, 0.98,25.46, 1.12,25.48, 1.26,25.45, 1.4,25.49, 1.54,25.46, 1.68,25.48, 1.82,25.45, 1.96,25.49, 2.1,25.46,
  0.3,25.64, 0.44,25.66, 0.58,25.63, 0.72,25.66, 0.86,25.63, 1.0,25.65, 1.14,25.62, 1.28,25.66, 1.42,25.63, 1.56,25.65, 1.7,25.62, 1.84,25.66, 1.98,25.63,
  0.2,25.81, 0.34,25.83, 0.48,25.8, 0.62,25.83, 0.76,25.8, 0.9,25.82, 1.04,25.79, 1.18,25.83, 1.32,25.8, 1.46,25.82, 1.6,25.79, 1.74,25.83, 1.9,25.8,
  0.06,25.98, 0.2,26.0, 0.34,25.97, 0.48,26.0, 0.62,25.97, 0.76,25.99, 0.9,25.96, 1.04,26.0, 1.18,25.97, 1.32,25.99, 1.46,25.96, 1.6,26.0, 1.76,25.97, 1.92,25.99,
  0.0,26.15, 0.14,26.17, 0.28,26.14, 0.42,26.17, 0.56,26.14, 0.7,26.16, 0.84,26.13, 0.98,26.17, 1.12,26.14, 1.26,26.16, 1.4,26.13, 1.54,26.17, 1.7,26.14, 1.84,26.16,
  0.16,26.32, 0.32,26.34, 0.48,26.31, 0.64,26.34, 0.8,26.31, 0.96,26.33, 1.12,26.3, 1.28,26.34, 1.44,26.31, 1.6,26.33,
  0.32,26.49, 0.52,26.51, 0.72,26.48, 0.92,26.51, 1.12,26.48, 1.32,26.5,
  0.6,26.66, 0.66,26.7
];

// red dashed curves, sampled at curveX
const curveX = [0, 0.5, 1, 1.5, 2, 2.5, 3, 3.5, 4];
const a1CurveI = [25.64, 25.56, 25.40, 25.18, 24.88, 24.44, 23.80, 23.00, 22.07];
const a5CurveI = [28.71, 28.66, 28.54, 28.25, 27.85, 27.31, 26.62, 25.92, 25.14];
const n1CurveI = [27.03, 26.96, 26.80, 26.55, 26.17, 25.60, 24.86, 24.12, 23.38];
const n2CurveI = [26.12, 26.06, 25.90, 25.60, 25.16, 24.62, 23.98, 23.28, 22.57];
const m1CurveI = [25.83, 25.77, 25.57, 25.32, 24.93, 24.34, 23.65, 22.91, 22.25];
const m2CurveI = [26.16, 26.12, 26.00, 25.74, 25.33, 24.75, 24.05, 23.30, 22.54];

// dash-dot limits (I) spanning limitX
const limitX = [0, 4];
const limitI = [null, 24.46, 24.59, 24.36, 24.44, 24.56];

// selection boxes in 10885/1: [xMin, xMax, iTop, iBottom]
const n1Boxes = [[1.70, 2.50, 24.56, 25.60], [2.55, 4.00, 23.58, 24.59]];

// axis ticks
const xMajor = [0, 1, 2, 3, 4];
const yMajor = [20, 22, 24, 26, 28, 30];
const panelNames = ['10885/A1', '10885/A5', '10885/1', '10885/2', '8059/1', '8059/2'];

// ---- chart ----
function pairs(flat) {
  const out = [];
  for (let i = 0; i < flat.length; i += 2) out.push([flat[i], flat[i + 1]]);
  return out;
}

const xMinor = [];
for (let k = -4; k <= 44; k++) if (k % 10 !== 0) xMinor.push(k / 10);
const yMinor = [];
for (let k = 39; k <= 59; k++) if (k % 4 !== 0) yMinor.push(k / 2);

// per panel: loose points, dense-sequence points (drawn a bit larger so they merge)
const panelPoints = [
  { loose: pairs(a1Dots.concat(a1DenseDots)), core: [] },
  { loose: pairs(a5Scatter), core: pairs(a5Core) },
  { loose: pairs(n1Scatter), core: pairs(n1Core) },
  { loose: pairs(n2Stars), core: [] },
  { loose: pairs(m1Scatter), core: pairs(m1Core) },
  { loose: pairs(m2Scatter), core: pairs(m2Core) }
];
const coreSize = [0, 9, 9, 0, 9, 8];
const panelCurves = [a1CurveI, a5CurveI, n1CurveI, n2CurveI, m1CurveI, m2CurveI];

const rowTops = [62, 434, 806];
const cols = [{ left: 79, width: 340 }, { left: 419, width: 331 }];
const panelH = 372;

// IDL-style asterisk
const starPath = 'path://M3.6,0L6.4,0L6.4,10L3.6,10Z M0,3.6L10,3.6L10,6.4L0,6.4Z ' +
  'M0,2L2,0L10,8L8,10Z M8,0L10,2L2,10L0,8Z';

const tickColor = '#666';
const fontFam = 'DejaVu Sans';
const labelFont = { fontFamily: fontFam, fontSize: 16, color: '#222' };

const grids = [], xAxes = [], yAxes = [], series = [], graphics = [];

function xAx(g, pos, values, len, withLabels) {
  return {
    type: 'value', gridIndex: g, position: pos, min: -0.5, max: 4.5,
    axisLine: { show: false, onZero: false },
    splitLine: { show: false },
    axisTick: { show: true, inside: true, length: len, customValues: values, lineStyle: { color: tickColor, width: 1 } },
    axisLabel: withLabels ? Object.assign({ show: true, customValues: xMajor, margin: 10 }, labelFont) : { show: false },
    name: withLabels ? 'V-I' : '',
    nameLocation: 'middle', nameGap: 32,
    nameTextStyle: labelFont
  };
}
function yAx(g, pos, values, len, withLabels) {
  return {
    type: 'value', gridIndex: g, position: pos, min: 19, max: 30, inverse: true,
    axisLine: { show: false, onZero: false },
    splitLine: { show: false },
    axisTick: { show: true, inside: true, length: len, customValues: values, lineStyle: { color: tickColor, width: 1 } },
    axisLabel: withLabels ? Object.assign({ show: true, customValues: yMajor, margin: 8 }, labelFont) : { show: false },
    name: withLabels ? 'I' : '',
    nameLocation: 'middle', nameGap: 40, nameRotate: 90,
    nameTextStyle: labelFont
  };
}

for (let g = 0; g < 6; g++) {
  const row = Math.floor(g / 2), col = g % 2;
  const c = cols[col];
  grids.push({
    left: c.left, top: rowTops[row], width: c.width, height: panelH,
    show: true, borderColor: '#555', borderWidth: 1, backgroundColor: 'transparent'
  });
  const bottomRow = row === 2, leftCol = col === 0;
  xAxes.push(xAx(g, 'bottom', xMajor, 6, bottomRow));
  xAxes.push(xAx(g, 'bottom', xMinor, 3, false));
  xAxes.push(xAx(g, 'top', xMajor, 6, false));
  xAxes.push(xAx(g, 'top', xMinor, 3, false));
  yAxes.push(yAx(g, 'left', yMajor, 6, leftCol));
  yAxes.push(yAx(g, 'left', yMinor, 3, false));
  yAxes.push(yAx(g, 'right', yMajor, 6, false));
  yAxes.push(yAx(g, 'right', yMinor, 3, false));

  const ax = { xAxisIndex: 4 * g, yAxisIndex: 4 * g };
  const dots = g === 0;
  series.push(Object.assign({
    type: 'scatter', data: panelPoints[g].loose,
    symbol: dots ? 'rect' : starPath,
    symbolSize: dots ? 2 : 7.5,
    itemStyle: { color: '#000', opacity: 1 },
    silent: true, z: 2
  }, ax));
  if (panelPoints[g].core.length) {
    series.push(Object.assign({
      type: 'scatter', data: panelPoints[g].core,
      symbol: starPath, symbolSize: coreSize[g],
      itemStyle: { color: '#000', opacity: 1 },
      silent: true, z: 2
    }, ax));
  }

  series.push(Object.assign({
    type: 'line', data: curveX.map((x, i) => [x, panelCurves[g][i]]),
    smooth: 0.4, symbol: 'none', silent: true, z: 3,
    lineStyle: { color: '#ff0000', width: 4, type: [15, 7], cap: 'butt' }
  }, ax));

  if (limitI[g] !== null) {
    series.push(Object.assign({
      type: 'line', data: limitX.map(x => [x, limitI[g]]),
      symbol: 'none', silent: true, z: 3,
      lineStyle: { color: '#ff0000', width: 5, type: [10, 4, 4, 4], cap: 'butt' }
    }, ax));
  }
  if (g === 2) {
    n1Boxes.forEach(b => {
      series.push(Object.assign({
        type: 'line',
        data: [[b[0], b[2]], [b[1], b[2]], [b[1], b[3]], [b[0], b[3]], [b[0], b[2]]],
        symbol: 'none', silent: true, z: 3,
        lineStyle: { color: '#ff0000', width: 3.5 }
      }, ax));
    });
  }

  graphics.push({
    type: 'text', left: c.left + (leftCol ? 238 : 233), top: rowTops[row] + 324,
    style: { text: panelNames[g], font: '16px "DejaVu Sans"', fill: '#222' }, z: 10
  });
}

// stray axis title left inside the 10885/1 panel
graphics.push({
  type: 'text', left: 236, top: 464, z: 0,
  style: { text: 'V-I', font: '16px "DejaVu Sans"', fill: '#222' }
});

const chart = echarts.init(document.getElementById('chart'), null, { renderer: 'canvas' });
chart.setOption({
  backgroundColor: '#fff',
  animation: false,
  grid: grids,
  xAxis: xAxes,
  yAxis: yAxes,
  series: series,
  graphic: graphics
});
</script>
</body>
</html>
